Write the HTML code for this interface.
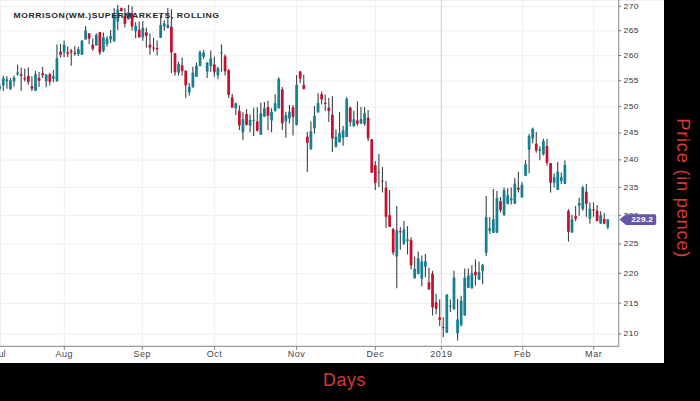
<!DOCTYPE html><html><head><meta charset="utf-8"><style>html,body{margin:0;padding:0;background:#000;width:700px;height:401px;overflow:hidden}svg{display:block}</style></head><body>
<svg width="700" height="401" viewBox="0 0 700 401">
<rect x="0" y="0" width="700" height="401" fill="#000"/>
<rect x="0" y="0" width="664" height="363" fill="#fff"/>
<rect x="0" y="0" width="664" height="0.8" fill="#ededed"/>
<rect x="0" y="0" width="0.8" height="346" fill="#ebebeb"/>
<line x1="0" y1="334.16" x2="618.7" y2="334.16" stroke="#eeeeee" stroke-width="1"/>
<line x1="0" y1="303.49" x2="618.7" y2="303.49" stroke="#eeeeee" stroke-width="1"/>
<line x1="0" y1="273.52" x2="618.7" y2="273.52" stroke="#eeeeee" stroke-width="1"/>
<line x1="0" y1="244.22" x2="618.7" y2="244.22" stroke="#eeeeee" stroke-width="1"/>
<line x1="0" y1="215.57" x2="618.7" y2="215.57" stroke="#eeeeee" stroke-width="1"/>
<line x1="0" y1="187.54" x2="618.7" y2="187.54" stroke="#eeeeee" stroke-width="1"/>
<line x1="0" y1="160.09" x2="618.7" y2="160.09" stroke="#eeeeee" stroke-width="1"/>
<line x1="0" y1="133.21" x2="618.7" y2="133.21" stroke="#eeeeee" stroke-width="1"/>
<line x1="0" y1="106.88" x2="618.7" y2="106.88" stroke="#eeeeee" stroke-width="1"/>
<line x1="0" y1="81.06" x2="618.7" y2="81.06" stroke="#eeeeee" stroke-width="1"/>
<line x1="0" y1="55.75" x2="618.7" y2="55.75" stroke="#eeeeee" stroke-width="1"/>
<line x1="0" y1="30.92" x2="618.7" y2="30.92" stroke="#eeeeee" stroke-width="1"/>
<line x1="0" y1="6.55" x2="618.7" y2="6.55" stroke="#eeeeee" stroke-width="1"/>
<line x1="64.3" y1="0" x2="64.3" y2="346.4" stroke="#eeeeee" stroke-width="1"/>
<line x1="142.3" y1="0" x2="142.3" y2="346.4" stroke="#eeeeee" stroke-width="1"/>
<line x1="214.6" y1="0" x2="214.6" y2="346.4" stroke="#eeeeee" stroke-width="1"/>
<line x1="296.6" y1="0" x2="296.6" y2="346.4" stroke="#eeeeee" stroke-width="1"/>
<line x1="375.4" y1="0" x2="375.4" y2="346.4" stroke="#eeeeee" stroke-width="1"/>
<line x1="441.4" y1="0" x2="441.4" y2="346.4" stroke="#cfcfcf" stroke-width="1"/>
<line x1="522.6" y1="0" x2="522.6" y2="346.4" stroke="#eeeeee" stroke-width="1"/>
<line x1="593.7" y1="0" x2="593.7" y2="346.4" stroke="#eeeeee" stroke-width="1"/>
<rect x="-0.84" y="84.00" width="1.1" height="7.00" fill="#3b4348"/>
<rect x="-1.66" y="86.00" width="2.75" height="3.00" rx="0.9" fill="#15808f"/>
<rect x="2.74" y="75.70" width="1.1" height="15.30" fill="#3b4348"/>
<rect x="1.92" y="77.90" width="2.75" height="7.80" rx="0.9" fill="#15808f"/>
<rect x="6.32" y="76.10" width="1.1" height="12.70" fill="#3b4348"/>
<rect x="5.49" y="79.20" width="2.75" height="2.20" rx="0.9" fill="#15808f"/>
<rect x="9.89" y="78.10" width="1.1" height="11.90" fill="#3b4348"/>
<rect x="9.07" y="80.00" width="2.75" height="9.20" rx="0.9" fill="#15808f"/>
<rect x="13.47" y="75.50" width="1.1" height="11.10" fill="#3b4348"/>
<rect x="12.65" y="77.40" width="2.75" height="4.00" rx="0.9" fill="#15808f"/>
<rect x="17.05" y="64.80" width="1.1" height="10.90" fill="#3b4348"/>
<rect x="16.22" y="72.20" width="2.75" height="2.20" rx="0.9" fill="#15808f"/>
<rect x="20.63" y="67.40" width="1.1" height="23.60" fill="#3b4348"/>
<rect x="19.80" y="74.00" width="2.75" height="2.10" rx="0.9" fill="#c8102e"/>
<rect x="24.20" y="68.70" width="1.1" height="12.70" fill="#3b4348"/>
<rect x="23.38" y="77.70" width="2.75" height="1.70" rx="0.9" fill="#c8102e"/>
<rect x="27.78" y="67.40" width="1.1" height="17.40" fill="#3b4348"/>
<rect x="26.95" y="75.70" width="2.75" height="6.50" rx="0.9" fill="#c8102e"/>
<rect x="31.36" y="76.30" width="1.1" height="14.70" fill="#3b4348"/>
<rect x="30.53" y="86.00" width="2.75" height="2.80" rx="0.9" fill="#c8102e"/>
<rect x="34.93" y="71.00" width="1.1" height="20.00" fill="#3b4348"/>
<rect x="34.11" y="74.00" width="2.75" height="17.00" rx="0.9" fill="#15808f"/>
<rect x="38.51" y="72.00" width="1.1" height="15.00" fill="#3b4348"/>
<rect x="37.69" y="77.70" width="2.75" height="3.30" rx="0.9" fill="#c8102e"/>
<rect x="42.09" y="67.00" width="1.1" height="11.00" fill="#3b4348"/>
<rect x="41.26" y="73.00" width="2.75" height="2.50" rx="0.9" fill="#c8102e"/>
<rect x="45.66" y="74.00" width="1.1" height="13.40" fill="#3b4348"/>
<rect x="44.84" y="74.50" width="2.75" height="7.20" rx="0.9" fill="#15808f"/>
<rect x="49.24" y="73.00" width="1.1" height="12.40" fill="#3b4348"/>
<rect x="48.42" y="74.00" width="2.75" height="8.00" rx="0.9" fill="#c8102e"/>
<rect x="52.82" y="70.00" width="1.1" height="12.40" fill="#3b4348"/>
<rect x="51.99" y="76.00" width="2.75" height="3.00" rx="0.9" fill="#15808f"/>
<rect x="56.40" y="44.50" width="1.1" height="36.90" fill="#3b4348"/>
<rect x="55.57" y="58.00" width="2.75" height="23.40" rx="0.9" fill="#15808f"/>
<rect x="59.97" y="44.00" width="1.1" height="13.50" fill="#3b4348"/>
<rect x="59.15" y="51.50" width="2.75" height="3.50" rx="0.9" fill="#c8102e"/>
<rect x="63.55" y="40.50" width="1.1" height="16.50" fill="#3b4348"/>
<rect x="62.72" y="44.50" width="2.75" height="8.00" rx="0.9" fill="#15808f"/>
<rect x="67.13" y="46.50" width="1.1" height="10.50" fill="#3b4348"/>
<rect x="66.30" y="52.00" width="2.75" height="2.00" rx="0.9" fill="#c8102e"/>
<rect x="70.70" y="49.00" width="1.1" height="16.80" fill="#3b4348"/>
<rect x="69.88" y="50.50" width="2.75" height="1.90" rx="0.9" fill="#c8102e"/>
<rect x="74.28" y="46.00" width="1.1" height="9.70" fill="#3b4348"/>
<rect x="73.46" y="52.40" width="2.75" height="1.50" rx="0.9" fill="#3b4348"/>
<rect x="77.86" y="46.70" width="1.1" height="9.30" fill="#3b4348"/>
<rect x="77.03" y="49.00" width="2.75" height="5.20" rx="0.9" fill="#15808f"/>
<rect x="81.43" y="40.00" width="1.1" height="15.00" fill="#3b4348"/>
<rect x="80.61" y="40.50" width="2.75" height="14.50" rx="0.9" fill="#15808f"/>
<rect x="85.01" y="26.10" width="1.1" height="13.50" fill="#3b4348"/>
<rect x="84.19" y="30.20" width="2.75" height="9.40" rx="0.9" fill="#15808f"/>
<rect x="88.59" y="33.00" width="1.1" height="11.10" fill="#3b4348"/>
<rect x="87.76" y="33.20" width="2.75" height="5.60" rx="0.9" fill="#c8102e"/>
<rect x="92.17" y="38.50" width="1.1" height="12.30" fill="#3b4348"/>
<rect x="91.34" y="44.60" width="2.75" height="4.30" rx="0.9" fill="#c8102e"/>
<rect x="95.74" y="33.20" width="1.1" height="12.40" fill="#3b4348"/>
<rect x="94.92" y="34.70" width="2.75" height="10.90" rx="0.9" fill="#15808f"/>
<rect x="99.32" y="32.00" width="1.1" height="23.00" fill="#3b4348"/>
<rect x="98.49" y="32.10" width="2.75" height="20.60" rx="0.9" fill="#c8102e"/>
<rect x="102.90" y="32.50" width="1.1" height="19.80" fill="#3b4348"/>
<rect x="102.07" y="37.00" width="2.75" height="14.20" rx="0.9" fill="#15808f"/>
<rect x="106.47" y="36.20" width="1.1" height="10.50" fill="#3b4348"/>
<rect x="105.65" y="38.50" width="2.75" height="5.50" rx="0.9" fill="#15808f"/>
<rect x="110.05" y="29.90" width="1.1" height="13.10" fill="#3b4348"/>
<rect x="109.23" y="35.80" width="2.75" height="3.80" rx="0.9" fill="#15808f"/>
<rect x="113.63" y="8.20" width="1.1" height="33.30" fill="#3b4348"/>
<rect x="112.80" y="14.50" width="2.75" height="27.00" rx="0.9" fill="#15808f"/>
<rect x="117.20" y="4.90" width="1.1" height="25.10" fill="#3b4348"/>
<rect x="116.38" y="9.30" width="2.75" height="12.40" rx="0.9" fill="#15808f"/>
<rect x="120.78" y="7.50" width="1.1" height="4.00" fill="#3b4348"/>
<rect x="119.96" y="7.90" width="2.75" height="3.30" rx="0.9" fill="#c8102e"/>
<rect x="124.36" y="8.20" width="1.1" height="19.10" fill="#3b4348"/>
<rect x="123.53" y="15.70" width="2.75" height="8.20" rx="0.9" fill="#c8102e"/>
<rect x="127.94" y="4.90" width="1.1" height="14.50" fill="#3b4348"/>
<rect x="127.11" y="12.00" width="2.75" height="7.40" rx="0.9" fill="#15808f"/>
<rect x="131.51" y="6.40" width="1.1" height="24.10" fill="#3b4348"/>
<rect x="130.69" y="13.10" width="2.75" height="13.50" rx="0.9" fill="#c8102e"/>
<rect x="135.09" y="22.10" width="1.1" height="16.10" fill="#3b4348"/>
<rect x="134.26" y="25.80" width="2.75" height="5.70" rx="0.9" fill="#15808f"/>
<rect x="138.67" y="21.50" width="1.1" height="15.90" fill="#3b4348"/>
<rect x="137.84" y="29.60" width="2.75" height="7.80" rx="0.9" fill="#c8102e"/>
<rect x="142.24" y="21.00" width="1.1" height="19.80" fill="#3b4348"/>
<rect x="141.42" y="27.70" width="2.75" height="9.80" rx="0.9" fill="#15808f"/>
<rect x="145.82" y="27.70" width="1.1" height="19.90" fill="#3b4348"/>
<rect x="145.00" y="31.90" width="2.75" height="4.10" rx="0.9" fill="#c8102e"/>
<rect x="149.40" y="33.40" width="1.1" height="21.30" fill="#3b4348"/>
<rect x="148.57" y="44.60" width="2.75" height="3.00" rx="0.9" fill="#c8102e"/>
<rect x="152.97" y="37.90" width="1.1" height="13.80" fill="#3b4348"/>
<rect x="152.15" y="47.20" width="2.75" height="1.50" rx="0.9" fill="#c8102e"/>
<rect x="156.55" y="40.50" width="1.1" height="14.90" fill="#3b4348"/>
<rect x="155.73" y="48.00" width="2.75" height="1.60" rx="0.9" fill="#c8102e"/>
<rect x="160.13" y="15.10" width="1.1" height="22.80" fill="#3b4348"/>
<rect x="159.30" y="24.80" width="2.75" height="13.10" rx="0.9" fill="#15808f"/>
<rect x="163.71" y="20.30" width="1.1" height="10.50" fill="#3b4348"/>
<rect x="162.88" y="23.30" width="2.75" height="3.40" rx="0.9" fill="#15808f"/>
<rect x="167.28" y="8.00" width="1.1" height="20.20" fill="#3b4348"/>
<rect x="166.46" y="24.80" width="2.75" height="3.40" rx="0.9" fill="#15808f"/>
<rect x="170.86" y="9.10" width="1.1" height="63.90" fill="#3b4348"/>
<rect x="170.03" y="26.40" width="2.75" height="26.20" rx="0.9" fill="#c8102e"/>
<rect x="174.44" y="53.00" width="1.1" height="22.60" fill="#3b4348"/>
<rect x="173.61" y="53.10" width="2.75" height="19.30" rx="0.9" fill="#c8102e"/>
<rect x="178.01" y="61.80" width="1.1" height="13.80" fill="#3b4348"/>
<rect x="177.19" y="63.70" width="2.75" height="9.30" rx="0.9" fill="#15808f"/>
<rect x="181.59" y="57.50" width="1.1" height="18.10" fill="#3b4348"/>
<rect x="180.77" y="65.00" width="2.75" height="6.20" rx="0.9" fill="#c8102e"/>
<rect x="185.17" y="70.60" width="1.1" height="27.40" fill="#3b4348"/>
<rect x="184.34" y="70.60" width="2.75" height="14.90" rx="0.9" fill="#c8102e"/>
<rect x="188.74" y="83.00" width="1.1" height="12.50" fill="#3b4348"/>
<rect x="187.92" y="86.80" width="2.75" height="5.60" rx="0.9" fill="#15808f"/>
<rect x="192.32" y="66.80" width="1.1" height="20.60" fill="#3b4348"/>
<rect x="191.50" y="72.40" width="2.75" height="15.00" rx="0.9" fill="#15808f"/>
<rect x="195.90" y="62.70" width="1.1" height="14.30" fill="#3b4348"/>
<rect x="195.07" y="65.50" width="2.75" height="11.50" rx="0.9" fill="#15808f"/>
<rect x="199.48" y="50.60" width="1.1" height="15.60" fill="#3b4348"/>
<rect x="198.65" y="51.80" width="2.75" height="14.40" rx="0.9" fill="#15808f"/>
<rect x="203.05" y="50.00" width="1.1" height="8.70" fill="#3b4348"/>
<rect x="202.23" y="52.50" width="2.75" height="4.30" rx="0.9" fill="#15808f"/>
<rect x="206.63" y="62.00" width="1.1" height="16.00" fill="#3b4348"/>
<rect x="205.80" y="62.40" width="2.75" height="9.40" rx="0.9" fill="#15808f"/>
<rect x="210.21" y="50.60" width="1.1" height="21.20" fill="#3b4348"/>
<rect x="209.38" y="58.00" width="2.75" height="8.20" rx="0.9" fill="#15808f"/>
<rect x="213.78" y="56.80" width="1.1" height="20.00" fill="#3b4348"/>
<rect x="212.96" y="64.30" width="2.75" height="8.10" rx="0.9" fill="#c8102e"/>
<rect x="217.36" y="66.80" width="1.1" height="12.50" fill="#3b4348"/>
<rect x="216.54" y="68.00" width="2.75" height="7.50" rx="0.9" fill="#15808f"/>
<rect x="220.94" y="44.40" width="1.1" height="27.40" fill="#3b4348"/>
<rect x="220.11" y="52.20" width="2.75" height="1.50" rx="0.9" fill="#15808f"/>
<rect x="224.51" y="54.30" width="1.1" height="21.20" fill="#3b4348"/>
<rect x="223.69" y="56.20" width="2.75" height="15.30" rx="0.9" fill="#c8102e"/>
<rect x="228.09" y="69.20" width="1.1" height="28.80" fill="#3b4348"/>
<rect x="227.27" y="70.00" width="2.75" height="25.00" rx="0.9" fill="#c8102e"/>
<rect x="231.67" y="93.80" width="1.1" height="13.90" fill="#3b4348"/>
<rect x="230.84" y="97.20" width="2.75" height="10.50" rx="0.9" fill="#c8102e"/>
<rect x="235.25" y="102.50" width="1.1" height="12.70" fill="#3b4348"/>
<rect x="234.42" y="103.20" width="2.75" height="5.20" rx="0.9" fill="#15808f"/>
<rect x="238.82" y="105.40" width="1.1" height="24.70" fill="#3b4348"/>
<rect x="238.00" y="110.70" width="2.75" height="15.00" rx="0.9" fill="#c8102e"/>
<rect x="242.40" y="112.20" width="1.1" height="27.80" fill="#3b4348"/>
<rect x="241.57" y="118.90" width="2.75" height="13.50" rx="0.9" fill="#15808f"/>
<rect x="245.98" y="109.20" width="1.1" height="16.50" fill="#3b4348"/>
<rect x="245.15" y="113.70" width="2.75" height="11.20" rx="0.9" fill="#c8102e"/>
<rect x="249.55" y="114.40" width="1.1" height="18.00" fill="#3b4348"/>
<rect x="248.73" y="119.70" width="2.75" height="6.00" rx="0.9" fill="#15808f"/>
<rect x="253.13" y="107.70" width="1.1" height="28.40" fill="#3b4348"/>
<rect x="252.31" y="119.70" width="2.75" height="1.50" rx="0.9" fill="#15808f"/>
<rect x="256.71" y="107.30" width="1.1" height="24.30" fill="#3b4348"/>
<rect x="255.88" y="121.30" width="2.75" height="9.70" rx="0.9" fill="#c8102e"/>
<rect x="260.28" y="102.80" width="1.1" height="32.20" fill="#3b4348"/>
<rect x="259.46" y="113.10" width="2.75" height="21.90" rx="0.9" fill="#15808f"/>
<rect x="263.86" y="102.10" width="1.1" height="14.70" fill="#3b4348"/>
<rect x="263.04" y="108.00" width="2.75" height="8.80" rx="0.9" fill="#15808f"/>
<rect x="267.44" y="100.80" width="1.1" height="29.50" fill="#3b4348"/>
<rect x="266.61" y="107.00" width="2.75" height="8.90" rx="0.9" fill="#c8102e"/>
<rect x="271.02" y="108.30" width="1.1" height="24.00" fill="#3b4348"/>
<rect x="270.19" y="111.70" width="2.75" height="9.00" rx="0.9" fill="#15808f"/>
<rect x="274.59" y="94.20" width="1.1" height="17.10" fill="#3b4348"/>
<rect x="273.77" y="103.00" width="2.75" height="8.30" rx="0.9" fill="#15808f"/>
<rect x="278.17" y="77.20" width="1.1" height="31.30" fill="#3b4348"/>
<rect x="277.35" y="78.70" width="2.75" height="29.80" rx="0.9" fill="#15808f"/>
<rect x="281.75" y="87.00" width="1.1" height="42.90" fill="#3b4348"/>
<rect x="280.92" y="89.20" width="2.75" height="34.20" rx="0.9" fill="#c8102e"/>
<rect x="285.32" y="111.70" width="1.1" height="25.90" fill="#3b4348"/>
<rect x="284.50" y="114.80" width="2.75" height="6.60" rx="0.9" fill="#15808f"/>
<rect x="288.90" y="105.00" width="1.1" height="18.40" fill="#3b4348"/>
<rect x="288.08" y="111.40" width="2.75" height="7.30" rx="0.9" fill="#15808f"/>
<rect x="292.48" y="105.00" width="1.1" height="30.50" fill="#3b4348"/>
<rect x="291.65" y="107.30" width="2.75" height="9.50" rx="0.9" fill="#c8102e"/>
<rect x="296.06" y="75.00" width="1.1" height="50.20" fill="#3b4348"/>
<rect x="295.23" y="84.70" width="2.75" height="40.50" rx="0.9" fill="#15808f"/>
<rect x="299.63" y="71.20" width="1.1" height="12.00" fill="#3b4348"/>
<rect x="298.81" y="71.20" width="2.75" height="7.50" rx="0.9" fill="#c8102e"/>
<rect x="303.21" y="75.00" width="1.1" height="14.20" fill="#3b4348"/>
<rect x="302.38" y="84.70" width="2.75" height="4.50" rx="0.9" fill="#c8102e"/>
<rect x="306.79" y="131.80" width="1.1" height="40.20" fill="#3b4348"/>
<rect x="305.96" y="136.40" width="2.75" height="6.60" rx="0.9" fill="#c8102e"/>
<rect x="310.36" y="121.50" width="1.1" height="28.00" fill="#3b4348"/>
<rect x="309.54" y="131.00" width="2.75" height="18.50" rx="0.9" fill="#15808f"/>
<rect x="313.94" y="106.00" width="1.1" height="27.60" fill="#3b4348"/>
<rect x="313.12" y="115.80" width="2.75" height="12.70" rx="0.9" fill="#15808f"/>
<rect x="317.52" y="93.10" width="1.1" height="19.50" fill="#3b4348"/>
<rect x="316.69" y="102.80" width="2.75" height="9.80" rx="0.9" fill="#15808f"/>
<rect x="321.09" y="91.50" width="1.1" height="12.90" fill="#3b4348"/>
<rect x="320.27" y="93.90" width="2.75" height="5.70" rx="0.9" fill="#c8102e"/>
<rect x="324.67" y="94.70" width="1.1" height="16.20" fill="#3b4348"/>
<rect x="323.85" y="102.80" width="2.75" height="1.30" rx="0.9" fill="#c8102e"/>
<rect x="328.25" y="98.00" width="1.1" height="24.00" fill="#3b4348"/>
<rect x="327.42" y="107.50" width="2.75" height="3.50" rx="0.9" fill="#c8102e"/>
<rect x="331.82" y="96.20" width="1.1" height="55.80" fill="#3b4348"/>
<rect x="331.00" y="114.60" width="2.75" height="24.10" rx="0.9" fill="#c8102e"/>
<rect x="335.40" y="129.40" width="1.1" height="18.20" fill="#3b4348"/>
<rect x="334.58" y="136.50" width="2.75" height="10.20" rx="0.9" fill="#15808f"/>
<rect x="338.98" y="112.00" width="1.1" height="30.40" fill="#3b4348"/>
<rect x="338.15" y="132.80" width="2.75" height="9.60" rx="0.9" fill="#15808f"/>
<rect x="342.56" y="125.80" width="1.1" height="20.00" fill="#3b4348"/>
<rect x="341.73" y="130.10" width="2.75" height="7.90" rx="0.9" fill="#15808f"/>
<rect x="346.13" y="97.00" width="1.1" height="40.10" fill="#3b4348"/>
<rect x="345.31" y="98.70" width="2.75" height="38.40" rx="0.9" fill="#15808f"/>
<rect x="349.71" y="106.60" width="1.1" height="20.00" fill="#3b4348"/>
<rect x="348.88" y="107.50" width="2.75" height="14.80" rx="0.9" fill="#c8102e"/>
<rect x="353.29" y="110.80" width="1.1" height="15.70" fill="#3b4348"/>
<rect x="352.46" y="119.00" width="2.75" height="7.50" rx="0.9" fill="#15808f"/>
<rect x="356.86" y="101.20" width="1.1" height="24.50" fill="#3b4348"/>
<rect x="356.04" y="120.20" width="2.75" height="3.70" rx="0.9" fill="#c8102e"/>
<rect x="360.44" y="107.00" width="1.1" height="17.20" fill="#3b4348"/>
<rect x="359.62" y="119.00" width="2.75" height="4.40" rx="0.9" fill="#15808f"/>
<rect x="364.02" y="107.00" width="1.1" height="18.70" fill="#3b4348"/>
<rect x="363.19" y="113.00" width="2.75" height="11.20" rx="0.9" fill="#15808f"/>
<rect x="367.59" y="110.00" width="1.1" height="31.20" fill="#3b4348"/>
<rect x="366.77" y="117.50" width="2.75" height="21.10" rx="0.9" fill="#c8102e"/>
<rect x="371.17" y="139.00" width="1.1" height="34.00" fill="#3b4348"/>
<rect x="370.35" y="139.00" width="2.75" height="34.00" rx="0.9" fill="#c8102e"/>
<rect x="374.75" y="161.00" width="1.1" height="29.00" fill="#3b4348"/>
<rect x="373.92" y="165.00" width="2.75" height="18.00" rx="0.9" fill="#c8102e"/>
<rect x="378.33" y="154.00" width="1.1" height="33.00" fill="#3b4348"/>
<rect x="377.50" y="171.60" width="2.75" height="1.40" rx="0.9" fill="#15808f"/>
<rect x="381.90" y="167.00" width="1.1" height="25.50" fill="#3b4348"/>
<rect x="381.08" y="180.40" width="2.75" height="1.20" rx="0.9" fill="#c8102e"/>
<rect x="385.48" y="181.00" width="1.1" height="47.00" fill="#3b4348"/>
<rect x="384.65" y="187.50" width="2.75" height="29.50" rx="0.9" fill="#c8102e"/>
<rect x="389.06" y="190.00" width="1.1" height="37.00" fill="#3b4348"/>
<rect x="388.23" y="215.00" width="2.75" height="12.00" rx="0.9" fill="#c8102e"/>
<rect x="392.63" y="228.00" width="1.1" height="27.00" fill="#3b4348"/>
<rect x="391.81" y="229.00" width="2.75" height="23.70" rx="0.9" fill="#c8102e"/>
<rect x="396.21" y="206.00" width="1.1" height="82.30" fill="#3b4348"/>
<rect x="395.39" y="230.00" width="2.75" height="26.70" rx="0.9" fill="#15808f"/>
<rect x="399.79" y="227.00" width="1.1" height="22.60" fill="#3b4348"/>
<rect x="398.96" y="231.00" width="2.75" height="1.40" rx="0.9" fill="#c8102e"/>
<rect x="403.36" y="221.00" width="1.1" height="24.00" fill="#3b4348"/>
<rect x="402.54" y="229.00" width="2.75" height="14.80" rx="0.9" fill="#15808f"/>
<rect x="406.94" y="226.00" width="1.1" height="28.50" fill="#3b4348"/>
<rect x="406.12" y="239.00" width="2.75" height="2.20" rx="0.9" fill="#15808f"/>
<rect x="410.52" y="237.30" width="1.1" height="32.20" fill="#3b4348"/>
<rect x="409.69" y="239.70" width="2.75" height="25.80" rx="0.9" fill="#c8102e"/>
<rect x="414.10" y="256.50" width="1.1" height="21.90" fill="#3b4348"/>
<rect x="413.27" y="268.70" width="2.75" height="9.70" rx="0.9" fill="#15808f"/>
<rect x="417.67" y="251.50" width="1.1" height="22.70" fill="#3b4348"/>
<rect x="416.85" y="258.00" width="2.75" height="16.20" rx="0.9" fill="#15808f"/>
<rect x="421.25" y="255.50" width="1.1" height="30.80" fill="#3b4348"/>
<rect x="420.42" y="261.20" width="2.75" height="17.80" rx="0.9" fill="#15808f"/>
<rect x="424.83" y="253.90" width="1.1" height="23.50" fill="#3b4348"/>
<rect x="424.00" y="261.20" width="2.75" height="5.70" rx="0.9" fill="#15808f"/>
<rect x="428.40" y="267.70" width="1.1" height="21.90" fill="#3b4348"/>
<rect x="427.58" y="282.30" width="2.75" height="7.30" rx="0.9" fill="#c8102e"/>
<rect x="431.98" y="270.80" width="1.1" height="44.70" fill="#3b4348"/>
<rect x="431.16" y="273.60" width="2.75" height="33.90" rx="0.9" fill="#c8102e"/>
<rect x="435.56" y="294.00" width="1.1" height="20.20" fill="#3b4348"/>
<rect x="434.73" y="302.00" width="2.75" height="7.00" rx="0.9" fill="#c8102e"/>
<rect x="439.13" y="299.20" width="1.1" height="26.80" fill="#3b4348"/>
<rect x="438.31" y="317.20" width="2.75" height="2.80" rx="0.9" fill="#c8102e"/>
<rect x="442.71" y="317.20" width="1.1" height="19.80" fill="#3b4348"/>
<rect x="441.89" y="326.90" width="2.75" height="1.30" rx="0.9" fill="#c8102e"/>
<rect x="446.29" y="294.00" width="1.1" height="39.00" fill="#3b4348"/>
<rect x="445.46" y="294.50" width="2.75" height="38.40" rx="0.9" fill="#15808f"/>
<rect x="449.87" y="299.50" width="1.1" height="12.50" fill="#3b4348"/>
<rect x="449.04" y="305.60" width="2.75" height="1.20" rx="0.9" fill="#15808f"/>
<rect x="453.44" y="270.60" width="1.1" height="38.90" fill="#3b4348"/>
<rect x="452.62" y="277.20" width="2.75" height="32.30" rx="0.9" fill="#15808f"/>
<rect x="457.02" y="299.00" width="1.1" height="41.50" fill="#3b4348"/>
<rect x="456.19" y="319.20" width="2.75" height="14.10" rx="0.9" fill="#15808f"/>
<rect x="460.60" y="295.70" width="1.1" height="30.80" fill="#3b4348"/>
<rect x="459.77" y="300.60" width="2.75" height="24.60" rx="0.9" fill="#15808f"/>
<rect x="464.17" y="268.50" width="1.1" height="47.10" fill="#3b4348"/>
<rect x="463.35" y="277.40" width="2.75" height="38.20" rx="0.9" fill="#15808f"/>
<rect x="467.75" y="268.50" width="1.1" height="19.50" fill="#3b4348"/>
<rect x="466.93" y="275.20" width="2.75" height="12.80" rx="0.9" fill="#15808f"/>
<rect x="471.33" y="265.10" width="1.1" height="23.30" fill="#3b4348"/>
<rect x="470.50" y="273.00" width="2.75" height="15.40" rx="0.9" fill="#15808f"/>
<rect x="474.91" y="259.50" width="1.1" height="26.10" fill="#3b4348"/>
<rect x="474.08" y="271.50" width="2.75" height="4.00" rx="0.9" fill="#c8102e"/>
<rect x="478.48" y="261.50" width="1.1" height="18.20" fill="#3b4348"/>
<rect x="477.66" y="271.80" width="2.75" height="7.90" rx="0.9" fill="#15808f"/>
<rect x="482.06" y="264.00" width="1.1" height="20.20" fill="#3b4348"/>
<rect x="481.23" y="264.80" width="2.75" height="6.70" rx="0.9" fill="#15808f"/>
<rect x="485.64" y="196.00" width="1.1" height="60.00" fill="#3b4348"/>
<rect x="484.81" y="217.00" width="2.75" height="36.00" rx="0.9" fill="#15808f"/>
<rect x="489.21" y="217.00" width="1.1" height="17.00" fill="#3b4348"/>
<rect x="488.39" y="228.00" width="2.75" height="3.00" rx="0.9" fill="#15808f"/>
<rect x="492.79" y="189.00" width="1.1" height="44.00" fill="#3b4348"/>
<rect x="491.97" y="219.00" width="2.75" height="14.00" rx="0.9" fill="#15808f"/>
<rect x="496.37" y="191.00" width="1.1" height="42.00" fill="#3b4348"/>
<rect x="495.54" y="198.00" width="2.75" height="35.00" rx="0.9" fill="#15808f"/>
<rect x="499.94" y="197.00" width="1.1" height="15.50" fill="#3b4348"/>
<rect x="499.12" y="201.00" width="2.75" height="9.50" rx="0.9" fill="#c8102e"/>
<rect x="503.52" y="187.50" width="1.1" height="28.50" fill="#3b4348"/>
<rect x="502.70" y="190.00" width="2.75" height="25.00" rx="0.9" fill="#15808f"/>
<rect x="507.10" y="188.00" width="1.1" height="16.50" fill="#3b4348"/>
<rect x="506.27" y="195.00" width="2.75" height="9.00" rx="0.9" fill="#15808f"/>
<rect x="510.68" y="187.50" width="1.1" height="17.00" fill="#3b4348"/>
<rect x="509.85" y="198.00" width="2.75" height="2.50" rx="0.9" fill="#15808f"/>
<rect x="514.25" y="178.00" width="1.1" height="26.00" fill="#3b4348"/>
<rect x="513.43" y="183.50" width="2.75" height="20.50" rx="0.9" fill="#15808f"/>
<rect x="517.83" y="172.00" width="1.1" height="20.50" fill="#3b4348"/>
<rect x="517.00" y="187.50" width="2.75" height="2.50" rx="0.9" fill="#c8102e"/>
<rect x="521.41" y="182.00" width="1.1" height="15.50" fill="#3b4348"/>
<rect x="520.58" y="184.50" width="2.75" height="13.00" rx="0.9" fill="#15808f"/>
<rect x="524.98" y="160.20" width="1.1" height="15.80" fill="#3b4348"/>
<rect x="524.16" y="164.00" width="2.75" height="12.00" rx="0.9" fill="#15808f"/>
<rect x="528.56" y="134.00" width="1.1" height="39.30" fill="#3b4348"/>
<rect x="527.74" y="135.90" width="2.75" height="14.00" rx="0.9" fill="#15808f"/>
<rect x="532.14" y="127.50" width="1.1" height="15.90" fill="#3b4348"/>
<rect x="531.31" y="128.40" width="2.75" height="10.30" rx="0.9" fill="#15808f"/>
<rect x="535.71" y="132.10" width="1.1" height="20.60" fill="#3b4348"/>
<rect x="534.89" y="143.40" width="2.75" height="7.40" rx="0.9" fill="#c8102e"/>
<rect x="539.29" y="146.20" width="1.1" height="14.00" fill="#3b4348"/>
<rect x="538.47" y="149.00" width="2.75" height="1.80" rx="0.9" fill="#15808f"/>
<rect x="542.87" y="138.70" width="1.1" height="16.80" fill="#3b4348"/>
<rect x="542.04" y="140.80" width="2.75" height="13.60" rx="0.9" fill="#15808f"/>
<rect x="546.45" y="138.70" width="1.1" height="26.90" fill="#3b4348"/>
<rect x="545.62" y="145.80" width="2.75" height="17.20" rx="0.9" fill="#c8102e"/>
<rect x="550.02" y="162.90" width="1.1" height="29.70" fill="#3b4348"/>
<rect x="549.20" y="162.90" width="2.75" height="20.10" rx="0.9" fill="#c8102e"/>
<rect x="553.60" y="173.40" width="1.1" height="14.00" fill="#3b4348"/>
<rect x="552.77" y="176.90" width="2.75" height="6.10" rx="0.9" fill="#15808f"/>
<rect x="557.18" y="162.00" width="1.1" height="28.00" fill="#3b4348"/>
<rect x="556.35" y="171.60" width="2.75" height="18.40" rx="0.9" fill="#15808f"/>
<rect x="560.75" y="172.50" width="1.1" height="11.40" fill="#3b4348"/>
<rect x="559.93" y="176.90" width="2.75" height="4.30" rx="0.9" fill="#15808f"/>
<rect x="564.33" y="160.30" width="1.1" height="23.60" fill="#3b4348"/>
<rect x="563.50" y="164.70" width="2.75" height="19.20" rx="0.9" fill="#15808f"/>
<rect x="567.91" y="209.20" width="1.1" height="32.40" fill="#3b4348"/>
<rect x="567.08" y="210.80" width="2.75" height="21.10" rx="0.9" fill="#c8102e"/>
<rect x="571.48" y="214.80" width="1.1" height="17.90" fill="#3b4348"/>
<rect x="570.66" y="218.90" width="2.75" height="13.80" rx="0.9" fill="#15808f"/>
<rect x="575.06" y="205.90" width="1.1" height="15.40" fill="#3b4348"/>
<rect x="574.24" y="216.00" width="2.75" height="2.90" rx="0.9" fill="#c8102e"/>
<rect x="578.64" y="197.80" width="1.1" height="17.90" fill="#3b4348"/>
<rect x="577.81" y="202.70" width="2.75" height="3.20" rx="0.9" fill="#15808f"/>
<rect x="582.22" y="185.70" width="1.1" height="25.10" fill="#3b4348"/>
<rect x="581.39" y="187.30" width="2.75" height="21.90" rx="0.9" fill="#15808f"/>
<rect x="585.79" y="184.00" width="1.1" height="32.70" fill="#3b4348"/>
<rect x="584.97" y="191.60" width="2.75" height="12.40" rx="0.9" fill="#c8102e"/>
<rect x="589.37" y="202.60" width="1.1" height="21.10" fill="#3b4348"/>
<rect x="588.54" y="208.60" width="2.75" height="10.20" rx="0.9" fill="#15808f"/>
<rect x="592.95" y="202.50" width="1.1" height="14.30" fill="#3b4348"/>
<rect x="592.12" y="209.30" width="2.75" height="1.30" rx="0.9" fill="#c8102e"/>
<rect x="596.52" y="205.00" width="1.1" height="16.20" fill="#3b4348"/>
<rect x="595.70" y="210.60" width="2.75" height="10.60" rx="0.9" fill="#c8102e"/>
<rect x="600.10" y="211.20" width="1.1" height="12.50" fill="#3b4348"/>
<rect x="599.27" y="215.00" width="2.75" height="8.70" rx="0.9" fill="#15808f"/>
<rect x="603.68" y="213.00" width="1.1" height="11.30" fill="#3b4348"/>
<rect x="602.85" y="218.70" width="2.75" height="5.00" rx="0.9" fill="#c8102e"/>
<rect x="607.25" y="219.30" width="1.1" height="10.00" fill="#3b4348"/>
<rect x="606.43" y="219.30" width="2.75" height="8.10" rx="0.9" fill="#15808f"/>
<text transform="translate(13.4,18.3) scale(1.12,1)" font-family="Liberation Sans, sans-serif" font-weight="bold" font-size="7.7" letter-spacing="0.52" fill="#262626">MORRISON(WM.)SUPERMARKETS, ROLLING</text>
<line x1="618.7" y1="0" x2="618.7" y2="346.4" stroke="#9a9a9a" stroke-width="1.2"/>
<line x1="0" y1="346.4" x2="618.7" y2="346.4" stroke="#9a9a9a" stroke-width="1.2"/>
<line x1="618.7" y1="333.91" x2="621.3000000000001" y2="333.91" stroke="#777" stroke-width="1"/>
<text transform="translate(623.6,336.36) scale(1.25,1)" font-family="Liberation Sans, sans-serif" font-size="6.8" letter-spacing="0.25" fill="#333">210</text>
<line x1="618.7" y1="303.24" x2="621.3000000000001" y2="303.24" stroke="#777" stroke-width="1"/>
<text transform="translate(623.6,305.69) scale(1.25,1)" font-family="Liberation Sans, sans-serif" font-size="6.8" letter-spacing="0.25" fill="#333">215</text>
<line x1="618.7" y1="273.27" x2="621.3000000000001" y2="273.27" stroke="#777" stroke-width="1"/>
<text transform="translate(623.6,275.72) scale(1.25,1)" font-family="Liberation Sans, sans-serif" font-size="6.8" letter-spacing="0.25" fill="#333">220</text>
<line x1="618.7" y1="243.97" x2="621.3000000000001" y2="243.97" stroke="#777" stroke-width="1"/>
<text transform="translate(623.6,246.42) scale(1.25,1)" font-family="Liberation Sans, sans-serif" font-size="6.8" letter-spacing="0.25" fill="#333">225</text>
<line x1="618.7" y1="215.32" x2="621.3000000000001" y2="215.32" stroke="#777" stroke-width="1"/>
<text transform="translate(623.6,217.77) scale(1.25,1)" font-family="Liberation Sans, sans-serif" font-size="6.8" letter-spacing="0.25" fill="#333">230</text>
<line x1="618.7" y1="187.29" x2="621.3000000000001" y2="187.29" stroke="#777" stroke-width="1"/>
<text transform="translate(623.6,189.74) scale(1.25,1)" font-family="Liberation Sans, sans-serif" font-size="6.8" letter-spacing="0.25" fill="#333">235</text>
<line x1="618.7" y1="159.84" x2="621.3000000000001" y2="159.84" stroke="#777" stroke-width="1"/>
<text transform="translate(623.6,162.29) scale(1.25,1)" font-family="Liberation Sans, sans-serif" font-size="6.8" letter-spacing="0.25" fill="#333">240</text>
<line x1="618.7" y1="132.96" x2="621.3000000000001" y2="132.96" stroke="#777" stroke-width="1"/>
<text transform="translate(623.6,135.41) scale(1.25,1)" font-family="Liberation Sans, sans-serif" font-size="6.8" letter-spacing="0.25" fill="#333">245</text>
<line x1="618.7" y1="106.63" x2="621.3000000000001" y2="106.63" stroke="#777" stroke-width="1"/>
<text transform="translate(623.6,109.08) scale(1.25,1)" font-family="Liberation Sans, sans-serif" font-size="6.8" letter-spacing="0.25" fill="#333">250</text>
<line x1="618.7" y1="80.81" x2="621.3000000000001" y2="80.81" stroke="#777" stroke-width="1"/>
<text transform="translate(623.6,83.26) scale(1.25,1)" font-family="Liberation Sans, sans-serif" font-size="6.8" letter-spacing="0.25" fill="#333">255</text>
<line x1="618.7" y1="55.50" x2="621.3000000000001" y2="55.50" stroke="#777" stroke-width="1"/>
<text transform="translate(623.6,57.95) scale(1.25,1)" font-family="Liberation Sans, sans-serif" font-size="6.8" letter-spacing="0.25" fill="#333">260</text>
<line x1="618.7" y1="30.67" x2="621.3000000000001" y2="30.67" stroke="#777" stroke-width="1"/>
<text transform="translate(623.6,33.12) scale(1.25,1)" font-family="Liberation Sans, sans-serif" font-size="6.8" letter-spacing="0.25" fill="#333">265</text>
<line x1="618.7" y1="6.30" x2="621.3000000000001" y2="6.30" stroke="#777" stroke-width="1"/>
<text transform="translate(623.6,8.75) scale(1.25,1)" font-family="Liberation Sans, sans-serif" font-size="6.8" letter-spacing="0.25" fill="#333">270</text>
<line x1="64.3" y1="346.4" x2="64.3" y2="349.9" stroke="#888" stroke-width="1"/>
<text x="64.3" y="357.3" text-anchor="middle" font-family="Liberation Sans, sans-serif" font-size="9" letter-spacing="0.55" fill="#444">Aug</text>
<line x1="142.3" y1="346.4" x2="142.3" y2="349.9" stroke="#888" stroke-width="1"/>
<text x="142.3" y="357.3" text-anchor="middle" font-family="Liberation Sans, sans-serif" font-size="9" letter-spacing="0.55" fill="#444">Sep</text>
<line x1="214.6" y1="346.4" x2="214.6" y2="349.9" stroke="#888" stroke-width="1"/>
<text x="214.6" y="357.3" text-anchor="middle" font-family="Liberation Sans, sans-serif" font-size="9" letter-spacing="0.55" fill="#444">Oct</text>
<line x1="296.6" y1="346.4" x2="296.6" y2="349.9" stroke="#888" stroke-width="1"/>
<text x="296.6" y="357.3" text-anchor="middle" font-family="Liberation Sans, sans-serif" font-size="9" letter-spacing="0.55" fill="#444">Nov</text>
<line x1="375.4" y1="346.4" x2="375.4" y2="349.9" stroke="#888" stroke-width="1"/>
<text x="375.4" y="357.3" text-anchor="middle" font-family="Liberation Sans, sans-serif" font-size="9" letter-spacing="0.55" fill="#444">Dec</text>
<line x1="441.4" y1="346.4" x2="441.4" y2="349.9" stroke="#888" stroke-width="1"/>
<text x="441.4" y="357.3" text-anchor="middle" font-family="Liberation Sans, sans-serif" font-size="9" letter-spacing="0.55" fill="#444">2019</text>
<line x1="522.6" y1="346.4" x2="522.6" y2="349.9" stroke="#888" stroke-width="1"/>
<text x="522.6" y="357.3" text-anchor="middle" font-family="Liberation Sans, sans-serif" font-size="9" letter-spacing="0.55" fill="#444">Feb</text>
<line x1="593.7" y1="346.4" x2="593.7" y2="349.9" stroke="#888" stroke-width="1"/>
<text x="593.7" y="357.3" text-anchor="middle" font-family="Liberation Sans, sans-serif" font-size="9" letter-spacing="0.55" fill="#444">Mar</text>
<text x="-1.5" y="357.3" text-anchor="start" font-family="Liberation Sans, sans-serif" font-size="9" fill="#444">ul</text>
<path d="M619.4 219.5 L626 214.2 L654.6 214.2 Q656.2 214.2 656.2 215.8 L656.2 223.3 Q656.2 224.9 654.6 224.9 L626 224.9 Z" fill="#6753a8"/>
<text transform="translate(631.2,221.9) scale(1.25,1)" font-family="Liberation Sans, sans-serif" font-weight="bold" font-size="6.8" letter-spacing="0.1" fill="#fff">229.2</text>
<text x="322.9" y="385.8" font-family="Liberation Sans, sans-serif" font-size="17.8" letter-spacing="0.7" fill="#d03c34">Days</text>
<text transform="translate(677,118.2) rotate(90)" x="0" y="0" font-family="Liberation Sans, sans-serif" font-size="18.4" letter-spacing="0.7" fill="#d03c34">Price (in pence)</text>
</svg></body></html>
